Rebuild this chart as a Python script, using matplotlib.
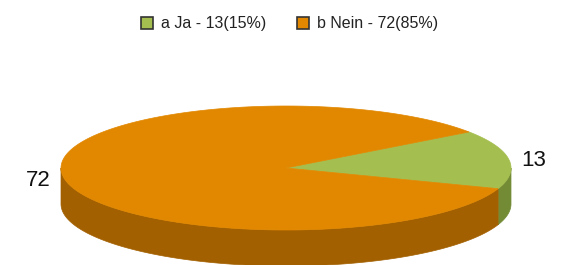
import numpy as np
import matplotlib
matplotlib.use("Agg")
import matplotlib.pyplot as plt
from matplotlib.patches import Polygon, Rectangle

plt.rcParams['font.family'] = ['Liberation Sans', 'DejaVu Sans']

# data
labels = ['a Ja', 'b Nein']
values = [13, 72]
top_colors = ['#A4BE4F', '#E28800']
side_colors = ['#738B35', '#A36000']

# pie geometry (pixel coords)
cx, cy = 286, 168
rx, ry = 225, 62
depth = 36
start = -19.5


def arc(a0, a1, dy=0, n=200):
    t = np.radians(np.linspace(a0, a1, n))
    return np.column_stack([cx + rx * np.cos(t), cy - ry * np.sin(t) + dy])


fig = plt.figure(figsize=(5.63, 2.65), dpi=100)
ax = fig.add_axes([0, 0, 1, 1])
ax.set_xlim(0, 563)
ax.set_ylim(265, 0)
ax.axis('off')

total = sum(values)
angles = []
a = start
for v in values:
    span = v / total * 360
    angles.append((a, a + span))
    a += span

# side walls (front half only: 180..360 degrees)
for (a0, a1), col in zip(angles, side_colors):
    for lo, hi in [(180, 360), (540, 720), (-180, 0)]:
        s0, s1 = max(a0, lo), min(a1, hi)
        if s1 > s0:
            top = arc(s0, s1)
            bot = arc(s0, s1, depth)[::-1]
            ax.add_patch(Polygon(np.vstack([top, bot]), closed=True,
                                 facecolor=col, edgecolor=col, lw=0.5))

# tops
for (a0, a1), col in zip(angles, top_colors):
    pts = np.vstack([[cx, cy], arc(a0, a1)])
    ax.add_patch(Polygon(pts, closed=True, facecolor=col, edgecolor=col, lw=0.5))

# value labels
ax.text(534, 160, str(values[0]), fontsize=16, ha='center', va='center', color='#111111')
ax.text(38, 181, str(values[1]), fontsize=16, ha='center', va='center', color='#111111')

# legend
leg_x = [141, 297]
for i, (lab, v) in enumerate(zip(labels, values)):
    pct = round(v / total * 100)
    ax.add_patch(Rectangle((leg_x[i], 17), 12, 12, facecolor=top_colors[i],
                           edgecolor='#333333', lw=1.2))
    ax.text(leg_x[i] + 20, 23.5, f'{lab} - {v}({pct}%)', fontsize=11.5,
            ha='left', va='center', color='#222222')

fig.savefig('out.png', dpi=100)
